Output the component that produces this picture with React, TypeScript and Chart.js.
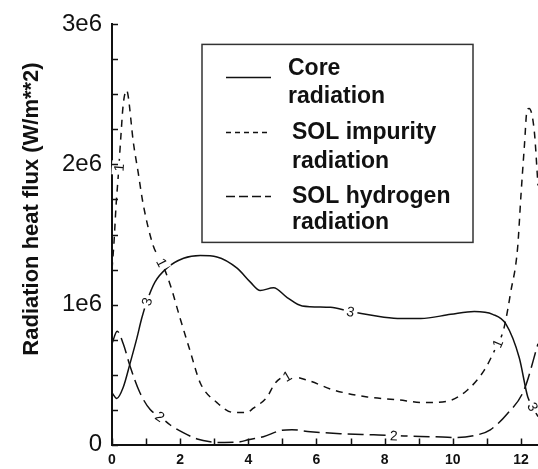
import React, { useEffect, useRef } from 'react';
import { Chart, registerables } from 'chart.js';

Chart.register(...registerables);

const FONT = '"Liberation Sans", Arial, Helvetica, sans-serif';

const xTickValues = [0, 2, 4, 6, 8, 10, 12];
const yTickValues = [0, 1e6, 2e6, 3e6];
const yTickLabels = ['0', '1e6', '2e6', '3e6'];
const yAxisTitle = 'Radiation heat flux (W/m**2)';
const seriesNames = ['Core radiation', 'SOL impurity radiation', 'SOL hydrogen radiation'];
const legendLines = [
  ['Core', 'radiation'],
  ['SOL impurity', 'radiation'],
  ['SOL hydrogen', 'radiation'],
];

const coreX = [0, 0.14, 0.33, 0.53, 0.73, 0.87, 1.02, 1.26, 1.61, 2.1, 2.59, 3.08, 3.67, 4.06, 4.35, 4.74, 5.14, 5.58, 6.41, 7.0, 7.98, 8.47, 9.06, 9.94, 10.63, 11.17, 11.56, 11.95, 12.2, 12.5];
const coreY = [0.37e6, 0.33e6, 0.41e6, 0.58e6, 0.76e6, 0.9e6, 1.02e6, 1.16e6, 1.26e6, 1.33e6, 1.35e6, 1.34e6, 1.26e6, 1.16e6, 1.1e6, 1.12e6, 1.05e6, 0.99e6, 0.98e6, 0.95e6, 0.91e6, 0.9e6, 0.9e6, 0.93e6, 0.95e6, 0.93e6, 0.86e6, 0.62e6, 0.34e6, 0.2e6];

const impurityX = [0, 0.06, 0.12, 0.19, 0.26, 0.33, 0.43, 0.48, 0.62, 0.77, 0.92, 1.21, 1.46, 1.71, 2.0, 2.29, 2.59, 3.08, 3.56, 3.96, 4.15, 4.55, 4.79, 5.14, 5.73, 6.5, 7.49, 8.37, 9.15, 9.84, 10.43, 10.92, 11.22, 11.5, 11.7, 11.9, 12.0, 12.1, 12.18, 12.24, 12.39, 12.5];
const impurityY = [1.25e6, 1.45e6, 1.71e6, 1.94e6, 2.2e6, 2.43e6, 2.53e6, 2.48e6, 2.17e6, 1.94e6, 1.71e6, 1.42e6, 1.3e6, 1.14e6, 0.9e6, 0.67e6, 0.44e6, 0.3e6, 0.23e6, 0.23e6, 0.26e6, 0.34e6, 0.44e6, 0.49e6, 0.46e6, 0.39e6, 0.34e6, 0.32e6, 0.3e6, 0.31e6, 0.39e6, 0.53e6, 0.67e6, 0.83e6, 1.09e6, 1.4e6, 1.78e6, 2.13e6, 2.39e6, 2.4e6, 2.24e6, 1.85e6];

const hydrogenX = [0, 0.15, 0.33, 0.53, 0.82, 1.12, 1.41, 1.71, 2.09, 2.5, 2.88, 3.3, 3.76, 4.0, 4.44, 4.94, 5.28, 5.82, 6.7, 7.68, 8.27, 8.57, 9.44, 10.14, 10.73, 11.1, 11.6, 12.09, 12.5];
const hydrogenY = [0.72e6, 0.81e6, 0.72e6, 0.56e6, 0.37e6, 0.25e6, 0.2e6, 0.14e6, 0.085e6, 0.04e6, 0.02e6, 0.015e6, 0.02e6, 0.035e6, 0.056e6, 0.1e6, 0.106e6, 0.092e6, 0.078e6, 0.07e6, 0.065e6, 0.062e6, 0.056e6, 0.05e6, 0.07e6, 0.106e6, 0.22e6, 0.39e6, 0.72e6];

const coreLabelX = [1.02, 7.0, 12.35];
const impurityLabelX = [0.2, 1.46, 5.14, 11.31];
const hydrogenLabelX = [1.41, 8.27];
const curveLabelText = ['3', '1', '2'];

const dashes = [[], [7, 6], [16, 6]];
const legendDashes = [[], [5, 4], [9, 4]];

const zip = (xs: number[], ys: number[]) => xs.map((x, i) => ({ x, y: ys[i] }));

const innerTicksPlugin = {
  id: 'innerTicks',
  afterDraw(chart: any) {
    const { ctx, chartArea, scales } = chart;
    ctx.save();
    ctx.strokeStyle = '#111';
    ctx.lineWidth = 1.5;
    ctx.beginPath();
    for (let v = 0; v <= 3e6; v += 0.25e6) {
      const y = Math.round(scales.y.getPixelForValue(v)) + 0.5;
      ctx.moveTo(chartArea.left, y);
      ctx.lineTo(chartArea.left + 6, y);
    }
    for (let v = 0; v <= 12; v += 1) {
      const x = Math.round(scales.x.getPixelForValue(v)) + 0.5;
      ctx.moveTo(x, chartArea.bottom);
      ctx.lineTo(x, chartArea.bottom - 6);
    }
    ctx.stroke();
    ctx.restore();
  },
};

const curveLabelsPlugin = {
  id: 'curveLabels',
  afterDatasetsDraw(chart: any) {
    const { ctx, scales } = chart;
    const groups = [coreLabelX, impurityLabelX, hydrogenLabelX];
    ctx.save();
    ctx.font = `14px ${FONT}`;
    ctx.textAlign = 'center';
    ctx.textBaseline = 'middle';
    groups.forEach((xs, di) => {
      const pts = chart.getDatasetMeta(di).data;
      xs.forEach((xv) => {
        const px = scales.x.getPixelForValue(xv);
        let k = 0;
        while (k < pts.length - 2 && pts[k + 1].x < px) k++;
        const a = pts[k], b = pts[k + 1];
        const t = b.x === a.x ? 0 : (px - a.x) / (b.x - a.x);
        const py = a.y + (b.y - a.y) * t;
        let ang = Math.atan2(b.y - a.y, b.x - a.x);
        if (ang > Math.PI / 2) ang -= Math.PI;
        if (ang < -Math.PI / 2) ang += Math.PI;
        ctx.save();
        ctx.translate(px, py);
        ctx.rotate(ang);
        ctx.fillStyle = '#fff';
        ctx.fillRect(-7, -7, 14, 14);
        ctx.fillStyle = '#111';
        ctx.fillText(curveLabelText[di], 0, 1);
        ctx.restore();
      });
    });
    ctx.restore();
  },
};

const legendBoxPlugin = {
  id: 'legendBox',
  afterDraw(chart: any) {
    const { ctx, chartArea } = chart;
    const left = chartArea.left + 90;
    const top = chartArea.top + 20;
    const w = 271;
    const h = 198;
    ctx.save();
    ctx.fillStyle = '#fff';
    ctx.fillRect(left, top, w, h);
    ctx.strokeStyle = '#333';
    ctx.lineWidth = 1.5;
    ctx.strokeRect(left, top, w, h);
    const sampleY = [33, 88, 152];
    const textX = [86, 90, 90];
    const line1Y = [24, 88, 152];
    const line2Y = [52, 117, 178];
    ctx.font = `bold 23px ${FONT}`;
    ctx.textAlign = 'left';
    ctx.textBaseline = 'middle';
    legendLines.forEach((lines, i) => {
      ctx.strokeStyle = '#111';
      ctx.lineWidth = 1.5;
      ctx.setLineDash(legendDashes[i]);
      ctx.beginPath();
      ctx.moveTo(left + 24, top + sampleY[i]);
      ctx.lineTo(left + 69, top + sampleY[i]);
      ctx.stroke();
      ctx.setLineDash([]);
      ctx.fillStyle = '#111';
      ctx.fillText(lines[0], left + textX[i], top + line1Y[i]);
      ctx.fillText(lines[1], left + textX[i], top + line2Y[i]);
    });
    ctx.restore();
  },
};

const yTitlePlugin = {
  id: 'yTitle',
  afterDraw(chart: any) {
    const { ctx } = chart;
    ctx.save();
    ctx.translate(32, 209);
    ctx.rotate(-Math.PI / 2);
    ctx.font = `bold 22px ${FONT}`;
    ctx.fillStyle = '#111';
    ctx.textAlign = 'center';
    ctx.textBaseline = 'middle';
    ctx.fillText(yAxisTitle, 0, 0);
    ctx.restore();
  },
};

export default function App() {
  const ref = useRef<HTMLCanvasElement | null>(null);
  useEffect(() => {
    if (!ref.current) return;
    const series = [zip(coreX, coreY), zip(impurityX, impurityY), zip(hydrogenX, hydrogenY)];
    const chart = new Chart(ref.current, {
      type: 'line',
      data: {
        datasets: series.map((d, i) => ({
          label: seriesNames[i],
          data: d,
          borderColor: '#111',
          borderWidth: 1.5,
          borderDash: dashes[i],
          pointRadius: 0,
          fill: false,
          cubicInterpolationMode: 'monotone' as const,
        })),
      },
      options: {
        animation: false,
        responsive: false,
        layout: { padding: { top: 20, left: 0, right: 0, bottom: 0 } },
        plugins: { legend: { display: false }, tooltip: { enabled: false } },
        scales: {
          x: {
            type: 'linear',
            min: 0,
            max: 12.5,
            grid: { display: false, drawTicks: false },
            border: { display: true, color: '#111', width: 2 },
            ticks: {
              stepSize: 2,
              includeBounds: false,
              autoSkip: false,
              maxRotation: 0,
              padding: 7,
              color: '#111',
              font: { family: FONT, size: 14, weight: 'bold' },
              callback: (v: any) => (xTickValues.includes(Number(v)) ? String(v) : ''),
            },
            afterFit: (s: any) => { s.height = 24; },
          },
          y: {
            type: 'linear',
            min: 0,
            max: 3e6,
            grid: { display: false, drawTicks: false },
            border: { display: true, color: '#111', width: 2 },
            ticks: {
              stepSize: 1e6,
              padding: 10,
              color: '#111',
              font: { family: FONT, size: 24 },
              callback: (v: any) => {
                const i = yTickValues.indexOf(Number(v));
                return i >= 0 ? yTickLabels[i] : '';
              },
            },
            afterFit: (s: any) => { s.width = 112; },
          },
        },
      },
      plugins: [innerTicksPlugin, curveLabelsPlugin, legendBoxPlugin, yTitlePlugin],
    } as any);
    return () => chart.destroy();
  }, []);
  return (
    <div style={{ position: 'absolute', left: 0, top: 0, width: 538, height: 469, background: '#fff' }}>
      <canvas ref={ref} width={538} height={469} style={{ display: 'block' }} />
    </div>
  );
}
